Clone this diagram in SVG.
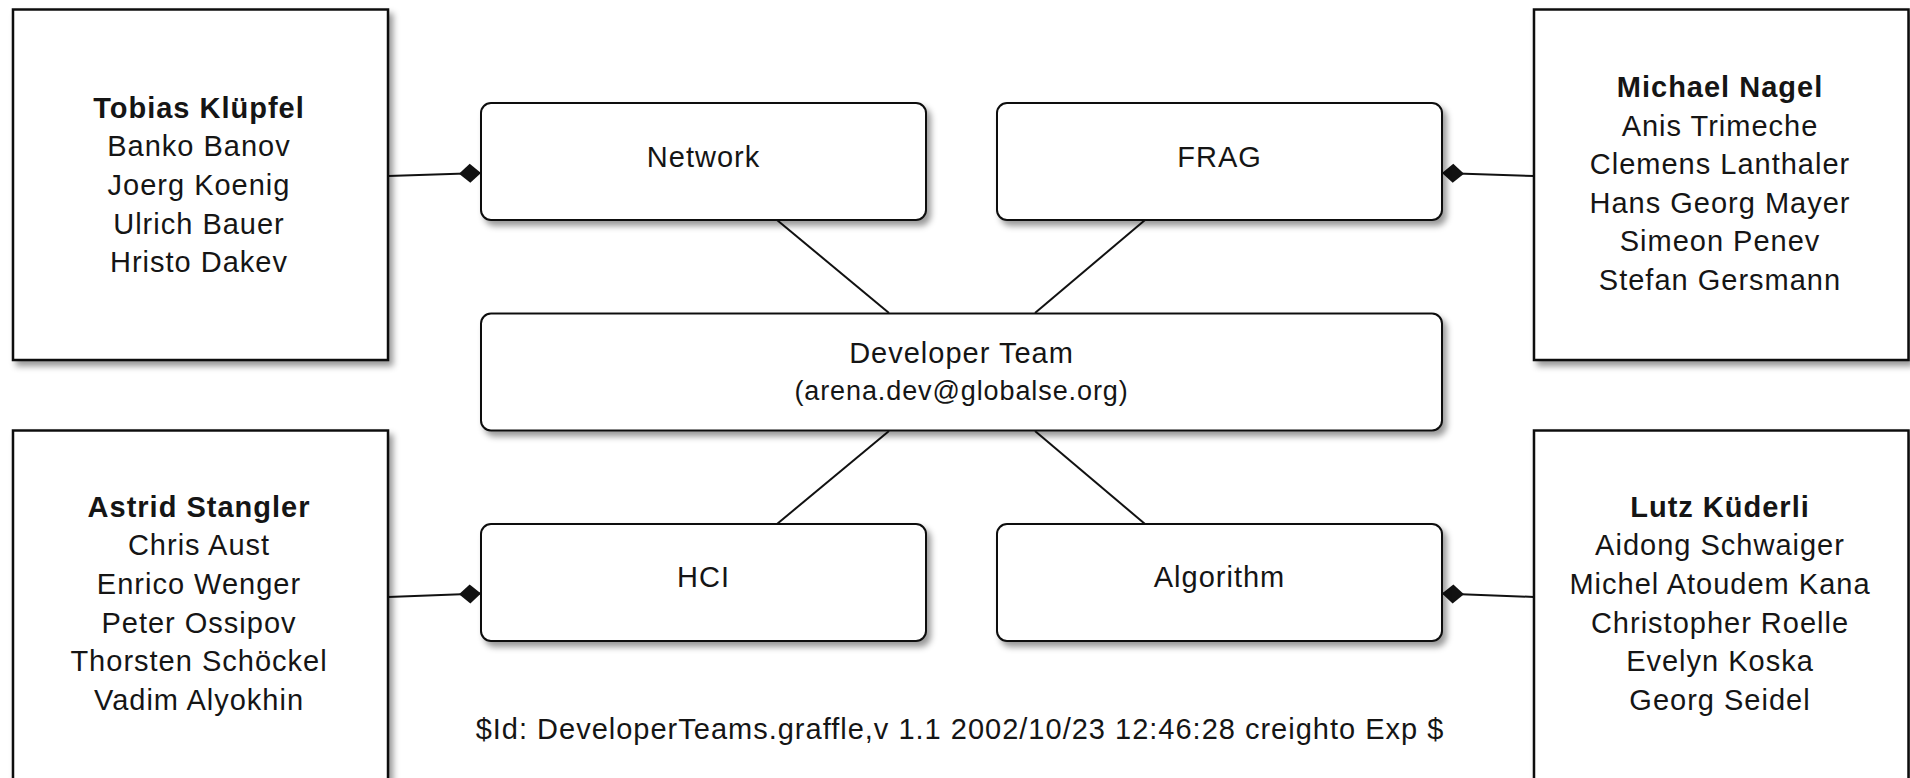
<svg xmlns="http://www.w3.org/2000/svg" width="1910" height="778" viewBox="0 0 1910 778">
<style>
.box{fill:#fff;stroke:#111;stroke-width:2.5;filter:url(#sh)}
.rbox{fill:#fff;stroke:#111;stroke-width:2;filter:url(#sh)}
text{font-family:"Liberation Sans",Arial,Helvetica,sans-serif;font-size:29px;fill:#151515;text-anchor:middle;letter-spacing:1px}
.b{font-weight:bold}
.sm{font-size:27px;letter-spacing:0.9px}
.ln{stroke:#111;stroke-width:2;fill:none}
.agg{stroke:#111;stroke-width:2;fill:none;marker-end:url(#dia)}
</style>
<defs>
<filter id="sh" x="-10%" y="-10%" width="125%" height="125%">
<feDropShadow dx="4" dy="5" stdDeviation="3" flood-color="#000" flood-opacity="0.4"/>
</filter>
<marker id="dia" markerUnits="userSpaceOnUse" markerWidth="24" markerHeight="22" viewBox="0 0 24 22" refX="23" refY="11" orient="auto">
<path d="M1,11 L12,1.5 L23,11 L12,20.5 Z" fill="#111"/>
</marker>
</defs>
<rect width="1910" height="778" fill="#fff"/>

<g id="connectors">
<line class="ln" x1="777" y1="220" x2="889" y2="313"/>
<line class="ln" x1="1145" y1="220" x2="1035" y2="313"/>
<line class="ln" x1="889" y1="431" x2="777" y2="524"/>
<line class="ln" x1="1035" y1="431" x2="1145" y2="524"/>
<line class="agg" x1="388" y1="176" x2="481" y2="173"/>
<line class="agg" x1="1534" y1="176" x2="1442" y2="173"/>
<line class="agg" x1="388" y1="597" x2="481" y2="593.5"/>
<line class="agg" x1="1534" y1="597" x2="1442" y2="593.5"/>
</g>

<g id="tobias">
<rect class="box" x="13" y="9.5" width="375" height="350.5"/>
<text x="199" y="117.5" class="b">Tobias Klüpfel</text>
<text x="199" y="156.2">Banko Banov</text>
<text x="199" y="194.9">Joerg Koenig</text>
<text x="199" y="233.6">Ulrich Bauer</text>
<text x="199" y="272.3">Hristo Dakev</text>
</g>

<g id="michael">
<rect class="box" x="1534" y="9.5" width="374.5" height="350.5"/>
<text x="1720" y="97" class="b">Michael Nagel</text>
<text x="1720" y="135.6">Anis Trimeche</text>
<text x="1720" y="174.2">Clemens Lanthaler</text>
<text x="1720" y="212.8">Hans Georg Mayer</text>
<text x="1720" y="251.4">Simeon Penev</text>
<text x="1720" y="290">Stefan Gersmann</text>
</g>

<g id="astrid">
<rect class="box" x="13" y="430.5" width="375" height="360"/>
<text x="199" y="516.7" class="b">Astrid Stangler</text>
<text x="199" y="555.3">Chris Aust</text>
<text x="199" y="593.9">Enrico Wenger</text>
<text x="199" y="632.5">Peter Ossipov</text>
<text x="199" y="671.1">Thorsten Schöckel</text>
<text x="199" y="709.7">Vadim Alyokhin</text>
</g>

<g id="lutz">
<rect class="box" x="1534" y="430.5" width="374.5" height="360"/>
<text x="1720" y="516.7" class="b">Lutz Küderli</text>
<text x="1720" y="555.3">Aidong Schwaiger</text>
<text x="1720" y="593.9">Michel Atoudem Kana</text>
<text x="1720" y="632.5">Christopher Roelle</text>
<text x="1720" y="671.1">Evelyn Koska</text>
<text x="1720" y="709.7">Georg Seidel</text>
</g>

<g id="network">
<rect class="rbox" x="481" y="103" width="445" height="117" rx="10"/>
<text x="703.5" y="167">Network</text>
</g>

<g id="frag">
<rect class="rbox" x="997" y="103" width="445" height="117" rx="10"/>
<text x="1219.5" y="167">FRAG</text>
</g>

<g id="devteam">
<rect class="rbox" x="481" y="313.5" width="961" height="117" rx="10"/>
<text x="961.5" y="363">Developer Team</text>
<text x="961.5" y="400" class="sm">(arena.dev@globalse.org)</text>
</g>

<g id="hci">
<rect class="rbox" x="481" y="524" width="445" height="117" rx="10"/>
<text x="703.5" y="587">HCI</text>
</g>

<g id="algorithm">
<rect class="rbox" x="997" y="524" width="445" height="117" rx="10"/>
<text x="1219.5" y="587">Algorithm</text>
</g>

<g id="footer">
<text x="960" y="739">$Id: DeveloperTeams.graffle,v 1.1 2002/10/23 12:46:28 creighto Exp $</text>
</g>
</svg>
